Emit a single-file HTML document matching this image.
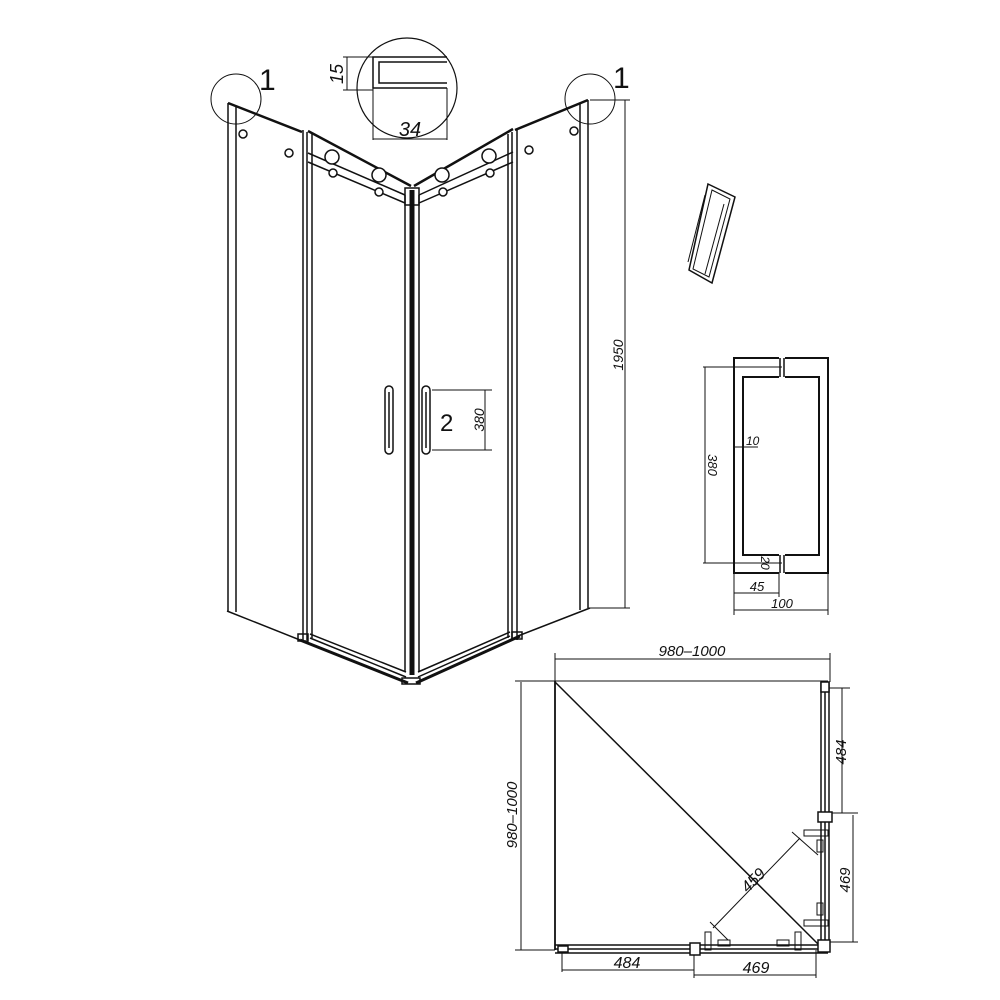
<!DOCTYPE html>
<html><head><meta charset="utf-8"><style>
html,body{margin:0;padding:0;background:#fff;width:1000px;height:1000px;overflow:hidden}
text{font-family:"Liberation Sans",sans-serif;fill:#111}
.i{font-style:italic}
</style></head><body>
<svg width="1000" height="1000" viewBox="0 0 1000 1000" xmlns="http://www.w3.org/2000/svg" fill="none" stroke="#111" stroke-width="1.5">
<line x1="228" y1="103" x2="228" y2="611"/><line x1="236" y1="106" x2="236" y2="612"/>
<line x1="228" y1="103" x2="302" y2="132" stroke-width="2.5"/>
<line x1="227" y1="611" x2="300" y2="640"/>
<line x1="588" y1="100" x2="588" y2="608"/><line x1="580" y1="103" x2="580" y2="610"/>
<line x1="588" y1="100" x2="515" y2="130" stroke-width="2.5"/>
<line x1="590" y1="608" x2="518" y2="636"/>
<line x1="303" y1="130" x2="303" y2="640"/><line x1="307" y1="132" x2="307" y2="640"/><line x1="312" y1="134" x2="312" y2="638"/>
<line x1="508" y1="134" x2="508" y2="638"/><line x1="512" y1="132" x2="512" y2="640"/><line x1="517" y1="130" x2="517" y2="640"/>
<rect x="409.5" y="190" width="5" height="485" fill="#111" stroke="none"/>
<line x1="405" y1="195" x2="405" y2="672"/><line x1="419" y1="195" x2="419" y2="672"/>
<line x1="308" y1="131" x2="411" y2="186" stroke-width="2.5"/>
<line x1="308" y1="153" x2="405" y2="195"/><line x1="308" y1="162" x2="405" y2="203"/>
<line x1="513" y1="129" x2="414" y2="186" stroke-width="2.5"/>
<line x1="513" y1="152" x2="419" y2="195"/><line x1="513" y1="162" x2="419" y2="203"/>
<rect x="405" y="188" width="14" height="17"/>
<g fill="#fff"><circle cx="332" cy="157" r="7"/><circle cx="379" cy="175" r="7"/><circle cx="442" cy="175" r="7"/><circle cx="489" cy="156" r="7"/>
<circle cx="333" cy="173" r="4"/><circle cx="379" cy="192" r="4"/><circle cx="443" cy="192" r="4"/><circle cx="490" cy="173" r="4"/>
<circle cx="243" cy="134" r="4"/><circle cx="289" cy="153" r="4"/><circle cx="529" cy="150" r="4"/><circle cx="574" cy="131" r="4"/></g>
<line x1="300" y1="640" x2="408" y2="683" stroke-width="3"/><line x1="310" y1="634" x2="406" y2="672"/><line x1="310" y1="638" x2="406" y2="677"/>
<line x1="520" y1="636" x2="416" y2="683" stroke-width="3"/><line x1="510" y1="632" x2="418" y2="672"/><line x1="510" y1="636" x2="418" y2="677"/>
<rect x="298" y="634" width="10" height="7"/><rect x="512" y="632" width="10" height="7"/><rect x="402" y="678" width="18" height="6"/>
<rect x="385" y="386" width="8" height="68" rx="4"/><line x1="389" y1="392" x2="389" y2="448"/>
<rect x="422" y="386" width="8" height="68" rx="4"/><line x1="426" y1="392" x2="426" y2="448"/>
<line x1="432" y1="390" x2="492" y2="390" stroke-width="1"/><line x1="432" y1="450" x2="492" y2="450" stroke-width="1"/><line x1="485" y1="390" x2="485" y2="450" stroke-width="1"/>
<line x1="590" y1="100" x2="630" y2="100" stroke-width="1"/><line x1="590" y1="608" x2="630" y2="608" stroke-width="1"/><line x1="625" y1="100" x2="625" y2="608" stroke-width="1"/>
<circle cx="236" cy="99" r="25" stroke-width="1"/><circle cx="590" cy="99" r="25" stroke-width="1"/>
<circle cx="407" cy="88" r="50" stroke-width="1.2"/>
<path d="M447 57 H373 V88 H447" stroke-width="1.5"/><path d="M447 62 H379 V83 H447" stroke-width="1.5"/>
<line x1="343" y1="57" x2="373" y2="57" stroke-width="1"/><line x1="343" y1="90" x2="373" y2="90" stroke-width="1"/><line x1="347" y1="57" x2="347" y2="90" stroke-width="1"/>
<line x1="373" y1="88" x2="373" y2="140" stroke-width="1"/><line x1="447" y1="88" x2="447" y2="140" stroke-width="1"/><line x1="373" y1="139" x2="447" y2="139" stroke-width="1"/>
<path d="M708 184 L735 197 L712 283 L689 270 Z" stroke-width="1.5"/>
<path d="M712 190 L730 199 L709 277 L693 269 Z" stroke-width="1"/>
<line x1="705" y1="195" x2="688" y2="262" stroke-width="1"/><line x1="724" y1="204" x2="705" y2="274" stroke-width="1"/>
<rect x="734" y="358" width="94" height="215" stroke-width="2"/>
<rect x="743" y="377" width="76" height="178" stroke-width="2"/>
<rect x="779" y="356" width="6" height="22" fill="#fff" stroke="none"/><rect x="779" y="554" width="6" height="22" fill="#fff" stroke="none"/>
<line x1="780" y1="358" x2="780" y2="377"/><line x1="784" y1="358" x2="784" y2="377"/><line x1="780" y1="555" x2="780" y2="573"/><line x1="784" y1="555" x2="784" y2="573"/>
<g stroke-width="1"><line x1="703" y1="367" x2="782" y2="367"/><line x1="703" y1="563" x2="782" y2="563"/><line x1="705" y1="367" x2="705" y2="563"/>
<line x1="734" y1="447" x2="758" y2="447"/>
<line x1="734" y1="573" x2="734" y2="615"/><line x1="828" y1="573" x2="828" y2="615"/><line x1="779" y1="573" x2="779" y2="597"/>
<line x1="734" y1="593" x2="779" y2="593"/><line x1="734" y1="610" x2="828" y2="610"/>
<line x1="515" y1="681" x2="828" y2="681"/><line x1="515" y1="950" x2="555" y2="950"/>
<line x1="555" y1="653" x2="555" y2="682"/><line x1="830" y1="653" x2="830" y2="682"/><line x1="555" y1="659" x2="830" y2="659"/>
<line x1="521" y1="682" x2="521" y2="950"/>
<line x1="842" y1="688" x2="842" y2="813"/><line x1="828" y1="688" x2="850" y2="688"/><line x1="828" y1="813" x2="858" y2="813"/>
<line x1="853" y1="815" x2="853" y2="942"/><line x1="828" y1="942" x2="858" y2="942"/>
<line x1="562" y1="950" x2="562" y2="972"/><line x1="694" y1="950" x2="694" y2="978"/><line x1="816" y1="950" x2="816" y2="978"/>
<line x1="562" y1="970" x2="694" y2="970"/><line x1="694" y1="975" x2="816" y2="975"/>
<line x1="800" y1="838" x2="713" y2="928"/><line x1="792" y1="832" x2="818" y2="855"/><line x1="710" y1="922" x2="728" y2="940"/></g>
<line x1="555" y1="681" x2="555" y2="950" stroke-width="1.8"/>
<line x1="555" y1="682" x2="820" y2="946" stroke-width="1.5"/>
<line x1="821" y1="682" x2="821" y2="946"/><line x1="825" y1="682" x2="825" y2="946"/><line x1="829" y1="682" x2="829" y2="946"/>
<line x1="555" y1="945" x2="828" y2="945"/><line x1="555" y1="949" x2="828" y2="949"/><line x1="555" y1="953" x2="828" y2="953"/>
<rect x="821" y="682" width="8" height="10" fill="#fff"/><rect x="818" y="812" width="14" height="10" fill="#fff"/>
<rect x="818" y="940" width="12" height="12" fill="#fff"/><rect x="690" y="943" width="10" height="12" fill="#fff"/>
<rect x="558" y="946" width="10" height="6" fill="#fff"/>
<g stroke-width="1"><rect x="804" y="830" width="24" height="6"/><rect x="804" y="920" width="24" height="6"/>
<rect x="705" y="932" width="6" height="18"/><rect x="795" y="932" width="6" height="18"/>
<rect x="817" y="840" width="6" height="12"/><rect x="817" y="903" width="6" height="12"/>
<rect x="718" y="940" width="12" height="6"/><rect x="777" y="940" width="12" height="6"/></g>
</svg>
<svg width="1000" height="1000" viewBox="0 0 1000 1000" style="position:absolute;left:0;top:0">
<text x="259" y="90" font-size="30">1</text>
<text x="613" y="88" font-size="30">1</text>
<text x="440" y="431" font-size="24">2</text>
<text class="i" font-size="14" transform="translate(484,420) rotate(-90)" text-anchor="middle">380</text>
<text class="i" font-size="14" transform="translate(623,355) rotate(-90)" text-anchor="middle">1950</text>
<text class="i" font-size="18" transform="translate(343,74) rotate(-90)" text-anchor="middle">15</text>
<text class="i" x="410" y="136" font-size="20" text-anchor="middle">34</text>
<text class="i" font-size="13" transform="translate(708,465) rotate(90)" text-anchor="middle">380</text>
<text class="i" x="746" y="445" font-size="12">10</text>
<text class="i" font-size="12" transform="translate(761,563) rotate(90)" text-anchor="middle">20</text>
<text class="i" x="757" y="591" font-size="13" text-anchor="middle">45</text>
<text class="i" x="782" y="608" font-size="13" text-anchor="middle">100</text>
<text class="i" x="692" y="656" font-size="15" text-anchor="middle">980–1000</text>
<text class="i" font-size="15" transform="translate(517,815) rotate(-90)" text-anchor="middle">980–1000</text>
<text class="i" font-size="15" transform="translate(846,752) rotate(-90)" text-anchor="middle">484</text>
<text class="i" font-size="15" transform="translate(850,880) rotate(-90)" text-anchor="middle">469</text>
<text class="i" x="627" y="968" font-size="16" text-anchor="middle">484</text>
<text class="i" x="756" y="973" font-size="16" text-anchor="middle">469</text>
<text class="i" font-size="16" transform="translate(757,884) rotate(-45)" text-anchor="middle">459</text>
</svg>
</body></html>
